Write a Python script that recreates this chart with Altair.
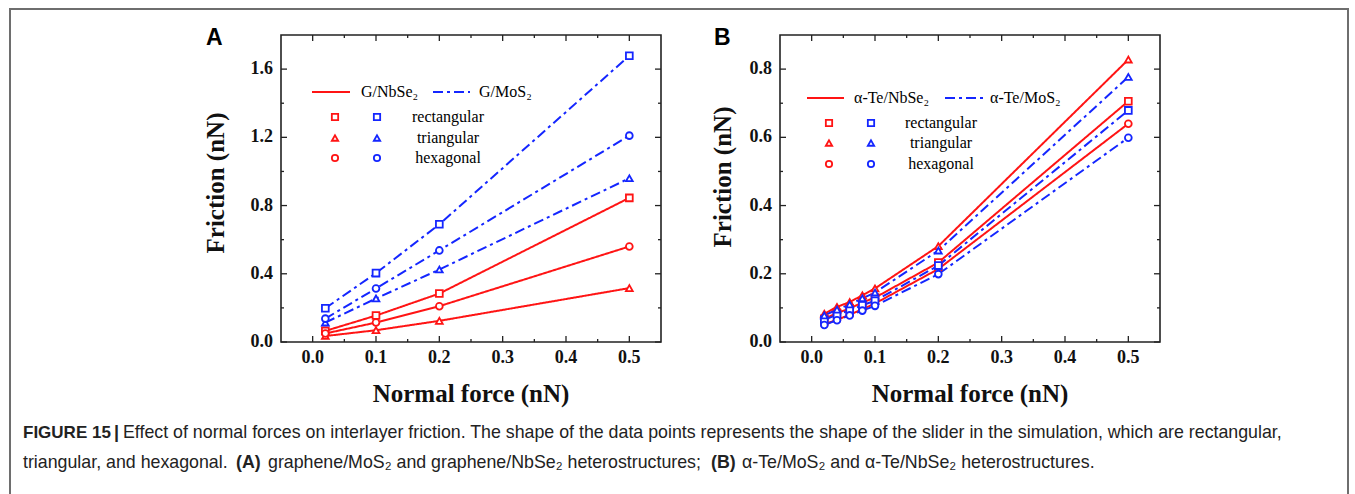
import altair as alt
import pandas as pd

# ---- panel A: graphene heterostructures ----
x_a = [0.02, 0.1, 0.2, 0.5]
a_nbse2_rect = [0.065, 0.155, 0.284, 0.845]
a_nbse2_tri = [0.035, 0.069, 0.124, 0.316]
a_nbse2_hex = [0.050, 0.114, 0.210, 0.560]
a_mos2_rect = [0.198, 0.404, 0.690, 1.678]
a_mos2_tri = [0.114, 0.255, 0.425, 0.960]
a_mos2_hex = [0.137, 0.314, 0.537, 1.210]

# ---- panel B: alpha-Te heterostructures ----
x_b = [0.02, 0.04, 0.06, 0.08, 0.1, 0.2, 0.5]
b_nbse2_rect = [0.068, 0.085, 0.098, 0.116, 0.130, 0.233, 0.706]
b_nbse2_tri = [0.083, 0.103, 0.117, 0.137, 0.157, 0.281, 0.828]
b_nbse2_hex = [0.052, 0.065, 0.080, 0.096, 0.113, 0.214, 0.640]
b_mos2_rect = [0.065, 0.080, 0.093, 0.108, 0.121, 0.224, 0.679]
b_mos2_tri = [0.078, 0.095, 0.110, 0.128, 0.145, 0.268, 0.777]
b_mos2_hex = [0.050, 0.064, 0.078, 0.092, 0.106, 0.199, 0.599]

x_major = [0.0, 0.1, 0.2, 0.3, 0.4, 0.5]
x_minor = [0.05, 0.15, 0.25, 0.35, 0.45]
x_labels = ["0.0", "0.1", "0.2", "0.3", "0.4", "0.5"]
ya_major = [0.0, 0.4, 0.8, 1.2, 1.6]
ya_minor = [0.2, 0.6, 1.0, 1.4]
ya_labels = ["0.0", "0.4", "0.8", "1.2", "1.6"]
yb_major = [0.0, 0.2, 0.4, 0.6, 0.8]
yb_minor = [0.1, 0.3, 0.5, 0.7]
yb_labels = ["0.0", "0.2", "0.4", "0.6", "0.8"]

RED = "#ff1414"
BLUE = "#1426ff"
INK = "#111111"
SERIF = "Liberation Serif"
SANS = "Liberation Sans"
W, H = 380, 307
ONE = pd.DataFrame({"k": [0]})


def frame(xs, series):
    rows = []
    for (mat, shp), ys in series.items():
        for x, y in zip(xs, ys):
            rows.append({"x": x, "y": y, "material": mat, "shape": shp,
                         "series": f"{mat}-{shp}"})
    return pd.DataFrame(rows)


df_a = frame(x_a, {
    ("NbSe2", "rectangular"): a_nbse2_rect,
    ("NbSe2", "triangular"): a_nbse2_tri,
    ("NbSe2", "hexagonal"): a_nbse2_hex,
    ("MoS2", "rectangular"): a_mos2_rect,
    ("MoS2", "triangular"): a_mos2_tri,
    ("MoS2", "hexagonal"): a_mos2_hex,
})
df_b = frame(x_b, {
    ("NbSe2", "rectangular"): b_nbse2_rect,
    ("NbSe2", "triangular"): b_nbse2_tri,
    ("NbSe2", "hexagonal"): b_nbse2_hex,
    ("MoS2", "rectangular"): b_mos2_rect,
    ("MoS2", "triangular"): b_mos2_tri,
    ("MoS2", "hexagonal"): b_mos2_hex,
})

color_scale = alt.Scale(domain=["NbSe2", "MoS2"], range=[RED, BLUE])
dash_scale = alt.Scale(domain=["NbSe2", "MoS2"], range=[[1, 0], [10, 4, 3, 4]])
shape_scale = alt.Scale(domain=["rectangular", "triangular", "hexagonal"],
                        range=["square", "triangle-up", "circle"])
DASH = [10, 4, 3, 4]


def text(t, x, y, size=16, font=SERIF, weight="normal", align="left",
         color="black", angle=0):
    return alt.Chart(ONE).mark_text(
        text=t, fontSize=size, font=font, fontWeight=weight, align=align,
        baseline="middle", color=color, angle=angle
    ).encode(x=alt.value(x), y=alt.value(y))


def marker(shape, color, x, y):
    return alt.Chart(ONE).mark_point(
        shape=shape, color=color, filled=False, fill="white", size=40,
        strokeWidth=1.8, opacity=1
    ).encode(x=alt.value(x), y=alt.value(y))


def sample(color, x1, x2, y, dash):
    return alt.Chart(ONE).mark_rule(
        color=color, strokeWidth=2.2, strokeDash=dash
    ).encode(x=alt.value(x1), x2=alt.value(x2), y=alt.value(y))


def ticks(vals, axis, scale, length, side):
    d = pd.DataFrame({"v": vals})
    m = alt.Chart(d).mark_rule(color="#222", strokeWidth=1.3)
    if axis == "x":
        y1, y2 = (H, H - length) if side == "low" else (0, length)
        return m.encode(x=alt.X("v:Q", scale=scale, axis=None),
                        y=alt.value(y1), y2=alt.value(y2))
    x1, x2 = (0, length) if side == "low" else (W, W - length)
    return m.encode(y=alt.Y("v:Q", scale=scale, axis=None),
                    x=alt.value(x1), x2=alt.value(x2))


def tick_labels(vals, labels, axis, scale):
    d = pd.DataFrame({"v": vals, "lab": labels})
    if axis == "x":
        return alt.Chart(d).mark_text(
            font=SERIF, fontWeight="bold", fontSize=18, color=INK,
            baseline="middle", align="center"
        ).encode(x=alt.X("v:Q", scale=scale, axis=None),
                 y=alt.value(H + 16), text="lab:N")
    return alt.Chart(d).mark_text(
        font=SERIF, fontWeight="bold", fontSize=18, color=INK,
        baseline="middle", align="right"
    ).encode(y=alt.Y("v:Q", scale=scale, axis=None),
             x=alt.value(-8), text="lab:N")


def panel(df, ydom, ymaj, ymin, ylabs, ytitle_xy, letter, extra):
    xs = alt.Scale(domain=[-0.05, 0.55], nice=False, zero=False)
    ys = alt.Scale(domain=ydom, nice=False, zero=False)
    xenc = alt.X("x:Q", scale=xs, axis=None)
    yenc = alt.Y("y:Q", scale=ys, axis=None)
    base = alt.Chart(df)
    lines = base.mark_line(strokeWidth=2).encode(
        x=xenc, y=yenc,
        color=alt.Color("material:N", scale=color_scale, legend=None),
        strokeDash=alt.StrokeDash("material:N", scale=dash_scale, legend=None),
        detail="series:N",
    )
    pts = base.mark_point(filled=False, fill="white", size=46,
                          strokeWidth=1.8, opacity=1).encode(
        x=xenc, y=yenc,
        color=alt.Color("material:N", scale=color_scale, legend=None),
        shape=alt.Shape("shape:N", scale=shape_scale, legend=None),
    )
    tk = [
        ticks(x_major, "x", xs, 6, "low"), ticks(x_minor, "x", xs, 3, "low"),
        ticks(x_major, "x", xs, 6, "high"), ticks(x_minor, "x", xs, 3, "high"),
        ticks(ymaj, "y", ys, 6, "low"), ticks(ymin, "y", ys, 3, "low"),
        ticks(ymaj, "y", ys, 6, "high"), ticks(ymin, "y", ys, 3, "high"),
        tick_labels(x_major, x_labels, "x", xs),
        tick_labels(ymaj, ylabs, "y", ys),
    ]
    titles = [
        text("Normal force (nN)", W / 2, 359, size=25, weight="bold",
             align="center", color=INK),
        text("Friction (nN)", ytitle_xy[0], ytitle_xy[1], size=25,
             weight="bold", align="center", color=INK, angle=270),
    ]
    lx, ly, lab = letter
    return alt.layer(lines, pts, *tk, *titles,
                     text(lab, lx, ly, size=23, font=SANS, weight="bold"),
                     *extra).properties(width=W, height=H)


def legend_block(ox, oy, red_lbl, blue_lbl, pos):
    (r1, r2), rt, (b1, b2), bt, (mr, mb), rows, lc, hy = pos
    items = [
        sample(RED, r1 - ox, r2 - ox, hy - oy, [1, 0]),
        text(red_lbl, rt - ox, hy - oy),
        sample(BLUE, b1 - ox, b2 - ox, hy - oy, DASH),
        text(blue_lbl, bt - ox, hy - oy),
    ]
    for (name, shp), ry in zip([("rectangular", "square"),
                                ("triangular", "triangle-up"),
                                ("hexagonal", "circle")], rows):
        items += [marker(shp, RED, mr - ox, ry - oy),
                  marker(shp, BLUE, mb - ox, ry - oy),
                  text(name, lc - ox, ry - oy, align="center")]
    return items


AX, AY = 280, 34      # panel A plot origin on the page
BX, BY = 779, 34      # panel B plot origin on the page

leg_a = legend_block(AX, AY, "G/NbSe\u2082", "G/MoS\u2082",
                     ((311, 349), 360, (432, 469), 478, (334, 376),
                      (116, 137, 157), 447, 91))
leg_b = legend_block(BX, BY, "\u03b1-Te/NbSe\u2082", "\u03b1-Te/MoS\u2082",
                     ((806, 843), 853, (944, 982), 989, (828, 870),
                      (122, 142, 163), 940, 97))

# outer figure frame and caption, placed relative to panel A
CAP = "#222222"
CS = 17.8
cap_y1, cap_y2 = 432, 462
caption = [
    alt.Chart(ONE).mark_rect(filled=False, stroke="#6e6e6e", strokeWidth=2)
    .encode(x=alt.value(9 - AX), x2=alt.value(1347 - AX),
            y=alt.value(8 - AY), y2=alt.value(505 - AY)),
    text("FIGURE 15", 22 - AX, cap_y1 - AY, size=17, font=SANS,
         weight="bold", color=CAP),
    text("|", 113 - AX, cap_y1 - AY, size=18, font=SANS, weight="bold",
         color=CAP),
    text("Effect of normal forces on interlayer friction. The shape of the "
         "data points represents the shape of the slider in the simulation, "
         "which are rectangular,", 122 - AX, cap_y1 - AY, size=CS, font=SANS,
         color=CAP),
    text("triangular, and hexagonal.", 22 - AX, cap_y2 - AY, size=CS,
         font=SANS, color=CAP),
    text("(A)", 235 - AX, cap_y2 - AY, size=CS, font=SANS, weight="bold",
         color=CAP),
    text("graphene/MoS\u2082 and graphene/NbSe\u2082 heterostructures;",
         267 - AX, cap_y2 - AY, size=CS, font=SANS, color=CAP),
    text("(B)", 710 - AX, cap_y2 - AY, size=CS, font=SANS, weight="bold",
         color=CAP),
    text("\u03b1-Te/MoS\u2082 and \u03b1-Te/NbSe\u2082 heterostructures.",
         741 - AX, cap_y2 - AY, size=CS, font=SANS, color=CAP),
]

chart_a = panel(df_a, [0, 1.8], ya_major, ya_minor, ya_labels,
                (215 - AX, 182 - AY), (205 - AX, 37 - AY, "A"),
                leg_a + caption)
chart_b = panel(df_b, [0, 0.9], yb_major, yb_minor, yb_labels,
                (722 - BX, 176 - BY), (713 - BX, 37 - BY, "B"), leg_b)

chart = alt.hconcat(chart_a, chart_b, spacing=BX - AX - W, bounds="flush").properties(
    padding={"left": 8, "top": 7, "right": 0, "bottom": 0},
    background="white",
).configure_view(
    stroke="#222", strokeWidth=1.6
)

chart.save("out.html", embed_options={"renderer": "svg", "actions": False})
